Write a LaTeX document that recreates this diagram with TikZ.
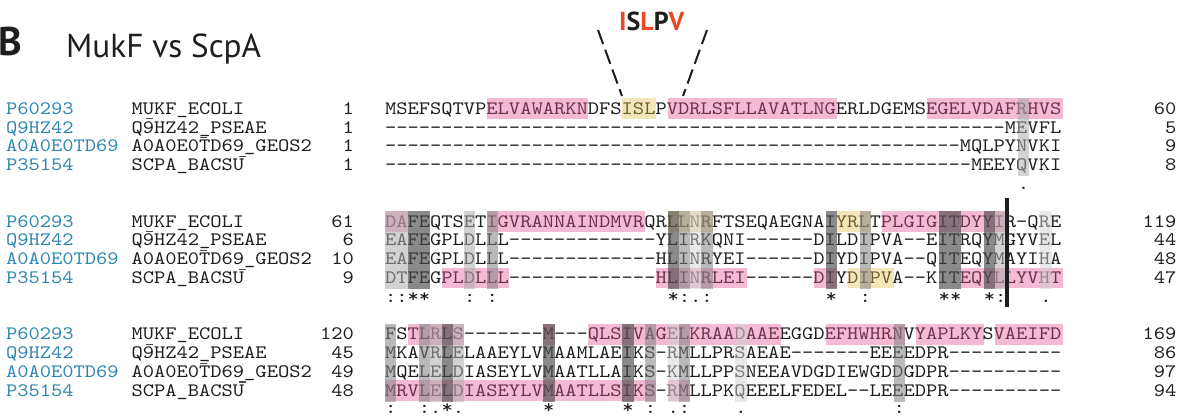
\documentclass[tikz,border=0pt]{standalone}
\usepackage{fontspec}
\setmonofont{lmmono10-regular.otf}[FakeStretch=1.13]
\newfontfamily\headfont{PT Sans}

\definecolor{acccol}{RGB}{45,135,178}
\definecolor{ink}{RGB}{30,30,30}
\definecolor{hlpink}{RGB}{227,82,147}
\definecolor{hlyellow}{RGB}{225,192,82}
\definecolor{hlred}{RGB}{234,70,40}
\definecolor{shadeA}{RGB}{210,210,210}
\definecolor{shadeB}{RGB}{173,173,173}
\definecolor{shadeC}{RGB}{130,130,130}
\definecolor{shadeD}{RGB}{75,75,75}

\ExplSyntaxOn
\cs_new:Npn \gapfill #1 { \prg_replicate:nn {#1} {-} }
\ExplSyntaxOff

\tikzset{
  mono/.style={inner sep=0pt, outer sep=0pt, text=ink,
    font=\ttfamily\fontsize{19}{19}\selectfont},
  accid/.style={mono, text=acccol},
  pinkhl/.style={fill=hlpink, fill opacity=0.4},
  yellowhl/.style={fill=hlyellow, fill opacity=0.4},
  sA/.style={fill=shadeA, fill opacity=0.5},
  sB/.style={fill=shadeB, fill opacity=0.55},
  sC/.style={fill=shadeC, fill opacity=0.55},
  sD/.style={fill=shadeD, fill opacity=0.65},
  cutline/.style={draw=ink, line width=2pt, dash pattern=on 15pt off 6pt},
  divider/.style={draw=ink, line width=4pt},
  tick/.style={draw=ink!80, line width=1.1pt},
}

% column c of an alignment block spans [385+(c-1)*11.3, 385+c*11.3]
\newcommand\rowbox[4]{% style, baseline, first column, last column
  \fill[#1] ({385+(#3-1)*11.3},{#2-16}) rectangle ({385+#4*11.3},{#2+4.8});}
\newcommand\colbox[4]{% style, top baseline, bottom baseline, column
  \fill[#1] ({385+(#4-1)*11.3},{#2-16}) rectangle ({385+#4*11.3},{#3+5.5});}
\newcommand\alnrow[7]{% id, baseline, accession, entry name, first residue, sequence, last residue
  \node[accid, anchor=base west] (#1acc) at (6,#2) {#3};
  \node[mono, anchor=base west] (#1name) at (131.5,#2) {#4};
  \node[mono, anchor=base east] (#1from) at (354,#2) {#5};
  \node[mono, anchor=base west] (#1seq) at (385,#2) {#6};
  \node[mono, anchor=base east] (#1to) at (1176.5,#2) {#7};}
\newcommand\consmarks[3]{% id, baseline, list of column/symbol
  \foreach \c/\m in {#3}
    \node[mono, anchor=base] (#1-\c) at ({385+(\c-0.5)*11.3},#2) {\m};}
\newcommand\strayticks[3]{% baselines of rows 2, 3, 4
  \draw[tick] (146,{#1-14.3}) -- (152.5,{#1-14.3});
  \draw[tick] (200,{#2-14.3}) -- (206.5,{#2-14.3});
  \draw[tick] (239,{#3-14.3}) -- (246,{#3-14.3});}

\begin{document}
\begin{tikzpicture}[x=1pt,y=-1pt]
\useasboundingbox (0,0) rectangle (1186,417);

% heading
\node[font=\headfont\bfseries\fontsize{40}{40}\selectfont, text=ink, inner sep=0pt, anchor=base west] (panel) at (-2,55.5) {B};
\node[font=\headfont\fontsize{33.2}{33.2}\selectfont, text=ink, inner sep=0pt, anchor=base west] (title) at (66,57.5) {MukF vs ScpA};
\node[font=\headfont\bfseries\fontsize{26}{26}\selectfont, text=ink, inner sep=0pt, anchor=base west] (motif) at (619,31)
  {\textcolor{hlred}{I}S\textcolor{hlred}{L}P\textcolor{hlred}{V}};

\coordinate (cutLtop) at (598,30);
\coordinate (cutLbot) at (622,96);
\coordinate (cutRtop) at (707,30);
\coordinate (cutRbot) at (683,96);
\draw[cutline] (cutLtop) -- (cutLbot);
\draw[cutline] (cutRtop) -- (cutRbot);

% ---------- block 1 : residues 1-60 ----------
\alnrow{ba}{114.3}{P60293}{MUKF\_ECOLI}{1}{MSEFSQTVPELVAWARKNDFSISLPVDRLSFLLAVATLNGERLDGEMSEGELVDAFRHVS}{60}
\alnrow{bb}{133.1}{Q9HZ42}{Q9HZ42\_PSEAE}{1}{\gapfill{55}MEVFL}{5}
\alnrow{bc}{151.9}{A0A0E0TD69}{A0A0E0TD69\_GEOS2}{1}{\gapfill{51}MQLPYNVKI}{9}
\alnrow{bd}{170.7}{P35154}{SCPA\_BACSU}{1}{\gapfill{52}MEEYQVKI}{8}
\consmarks{ka}{189.5}{57/.}
\strayticks{133.1}{151.9}{170.7}

\rowbox{pinkhl}{114.3}{10}{18}
\rowbox{yellowhl}{114.3}{22}{24}
\rowbox{pinkhl}{114.3}{26}{40}
\rowbox{pinkhl}{114.3}{49}{60}
\colbox{sB}{114.3}{170.7}{57}

% ---------- block 2 ----------
\alnrow{ca}{227.1}{P60293}{MUKF\_ECOLI}{61}{DAFEQTSETIGVRANNAINDMVRQRLLNRFTSEQAEGNAIYRLTPLGIGITDYYIR-QRE}{119}
\alnrow{cb}{245.9}{Q9HZ42}{Q9HZ42\_PSEAE}{6}{EAFEGPLDLLL\gapfill{13}YLIRKQNI\gapfill{6}DILDIPVA--EITRQYMGYVEL}{44}
\alnrow{cc}{264.7}{A0A0E0TD69}{A0A0E0TD69\_GEOS2}{10}{EAFEGPLDLLL\gapfill{13}HLINRYEI\gapfill{6}DIYDIPVA--QITEQYMAYIHA}{48}
\alnrow{cd}{283.5}{P35154}{SCPA\_BACSU}{9}{DTFEGPLDLLL\gapfill{13}HLINRLEI\gapfill{6}DIYDIPVA--KITEQYLLYVHT}{47}
\consmarks{kb}{302.3}{1/:,2/:,3/*,4/*,8/:,10/:,26/*,27/:,28/.,29/:,40/*,43/:,50/*,51/*,54/*,55/:,59/.}
\strayticks{245.9}{264.7}{283.5}

\rowbox{pinkhl}{227.1}{1}{2}
\rowbox{pinkhl}{227.1}{10}{23}
\rowbox{yellowhl}{227.1}{26}{29}
\rowbox{yellowhl}{227.1}{41}{43}
\rowbox{pinkhl}{227.1}{45}{55}
\rowbox{pinkhl}{283.5}{6}{11}
\rowbox{pinkhl}{283.5}{25}{32}
\rowbox{pinkhl}{283.5}{39}{40}
\rowbox{yellowhl}{283.5}{42}{45}
\rowbox{pinkhl}{283.5}{52}{60}
\foreach \col/\lev in {1/sB,2/sB,3/sD,4/sD,8/sB,10/sC,26/sD,27/sC,28/sA,29/sC,40/sD,43/sC,50/sD,51/sD,54/sD,55/sB,59/sA}
  \colbox{\lev}{227.1}{283.5}{\col};

\coordinate (divTop) at (1006.5,198);
\coordinate (divBot) at (1006.5,307);
\draw[divider] (divTop) -- (divBot);

% ---------- block 3 ----------
\alnrow{da}{339.9}{P60293}{MUKF\_ECOLI}{120}{FSTLRLS\gapfill{7}M---QLSIVAGELKRAADAAEEGGDEFHWHRNVYAPLKYSVAEIFD}{169}
\alnrow{db}{358.7}{Q9HZ42}{Q9HZ42\_PSEAE}{45}{MKAVRLELAAEYLVMAAMLAEIKS-RMLLPRSAEAE\gapfill{7}EEEEDPR\gapfill{10}}{86}
\alnrow{dc}{377.5}{A0A0E0TD69}{A0A0E0TD69\_GEOS2}{49}{MQELELDIASEYLVMAATLLAIKS-KMLLPPSNEEAVDGDIEWGDDGDPR\gapfill{10}}{97}
\alnrow{dd}{396.3}{P35154}{SCPA\_BACSU}{48}{MRVLELDIASEYLVMAATLLSIKS-RMLLPKQEEELFEDEL--LEEEDPR\gapfill{10}}{94}
\consmarks{kc}{413.8}{1/:,4/:,5/.,6/*,7/.,15/*,22/*,24/:,26/.,27/:,32/.,46/:}
\strayticks{358.7}{377.5}{396.3}

\rowbox{pinkhl}{339.9}{3}{7}
\rowbox{pinkhl}{339.9}{15}{15}
\rowbox{pinkhl}{339.9}{19}{35}
\rowbox{pinkhl}{339.9}{40}{46}
\rowbox{pinkhl}{339.9}{48}{53}
\rowbox{pinkhl}{339.9}{55}{60}
\rowbox{pinkhl}{396.3}{1}{24}
\rowbox{pinkhl}{396.3}{26}{27}
\foreach \col/\lev in {1/sC,4/sC,5/sB,6/sD,7/sB,15/sD,22/sD,24/sC,26/sA,27/sC,32/sA,46/sC}
  \colbox{\lev}{339.9}{396.3}{\col};
\end{tikzpicture}
\end{document}
